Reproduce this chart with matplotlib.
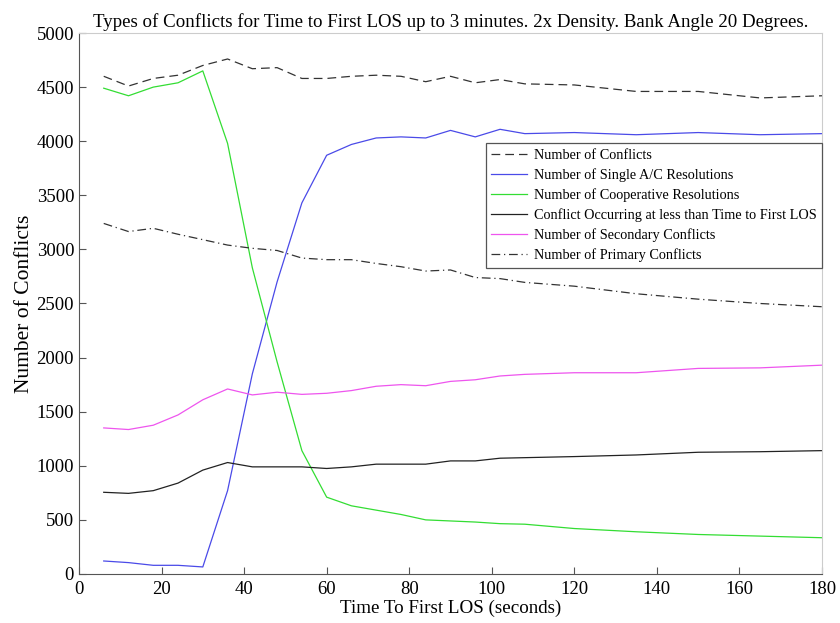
import matplotlib.pyplot as plt

# Tempo até a primeira perda de separação (s)
tempo = [6, 12, 18, 24, 30, 36, 42, 48, 54, 60, 66, 72, 78, 84, 90, 96, 102, 108,
         120, 135, 150, 165, 180]

conflitos = [4600, 4510, 4580, 4610, 4700, 4760, 4670, 4680, 4580, 4580, 4600, 4610,
             4600, 4550, 4600, 4540, 4570, 4530, 4520, 4460, 4460, 4400, 4420]
single_ac = [120, 105, 80, 80, 65, 770, 1850, 2700, 3430, 3870, 3970, 4030,
             4040, 4030, 4100, 4040, 4110, 4070, 4080, 4060, 4080, 4060, 4070]
cooperativas = [4490, 4420, 4500, 4540, 4650, 3980, 2830, 1960, 1140, 710, 630, 590,
                550, 500, 490, 480, 465, 460, 420, 390, 365, 350, 335]
menos_que_los = [755, 745, 770, 840, 960, 1030, 990, 990, 990, 975, 990, 1015,
                 1015, 1015, 1045, 1045, 1070, 1075, 1085, 1100, 1125, 1130, 1140]
secundarios = [1350, 1335, 1375, 1470, 1610, 1710, 1655, 1680, 1660, 1670, 1695, 1735,
               1750, 1740, 1780, 1795, 1830, 1845, 1860, 1860, 1900, 1905, 1930]
primarios = [3240, 3165, 3195, 3140, 3090, 3040, 3010, 2990, 2920, 2905, 2905, 2870,
             2840, 2800, 2810, 2740, 2730, 2695, 2660, 2590, 2540, 2500, 2470]

plt.rcParams['font.family'] = ['Liberation Serif', 'DejaVu Serif']

fig = plt.figure(figsize=(8.4, 6.23), dpi=100)
ax = fig.add_axes([0.094, 0.0787, 0.8846, 0.8683])

ax.plot(tempo, conflitos, color='#333333', lw=0.9, dashes=(7, 4), label='Number of Conflicts')
ax.plot(tempo, single_ac, color='#4a4ae8', lw=0.9, label='Number of Single A/C Resolutions')
ax.plot(tempo, cooperativas, color='#33dd33', lw=0.9, label='Number of Cooperative Resolutions')
ax.plot(tempo, menos_que_los, color='#222222', lw=0.9,
        label='Conflict Occurring at less than Time to First LOS')
ax.plot(tempo, secundarios, color='#ee55ee', lw=0.9, label='Number of Secondary Conflicts')
ax.plot(tempo, primarios, color='#333333', lw=0.9, dashes=(7, 3, 1, 3),
        label='Number of Primary Conflicts')

ax.set_xlim(0, 180)
ax.set_ylim(0, 5000)
ax.set_xticks(range(0, 181, 20))
ax.set_yticks(range(0, 5001, 500))
ax.tick_params(direction='in', length=5, labelsize=13.5, colors='#555555', labelcolor='black')
ax.tick_params(axis='x', pad=5)
for s in ['top', 'right']:
    ax.spines[s].set_color('#cccccc')
for s in ['left', 'bottom']:
    ax.spines[s].set_color('#555555')

ax.set_xlabel('Time To First LOS (seconds)', fontsize=13.7, labelpad=1.5)
ax.set_ylabel('Number of Conflicts', fontsize=15.5, labelpad=2)
ax.set_title('Types of Conflicts for Time to First LOS up to 3 minutes. 2x Density. Bank Angle 20 Degrees.',
             fontsize=13.6, pad=4)

leg = ax.legend(loc='upper right', bbox_to_anchor=(1.0, 0.797), fontsize=10.3,
                fancybox=False, framealpha=1, edgecolor='#555555', handlelength=2.5,
                handletextpad=0.45, borderaxespad=0, labelspacing=0.44, borderpad=0.4)
leg.get_frame().set_linewidth(0.9)

fig.savefig('out.png', dpi=100)
